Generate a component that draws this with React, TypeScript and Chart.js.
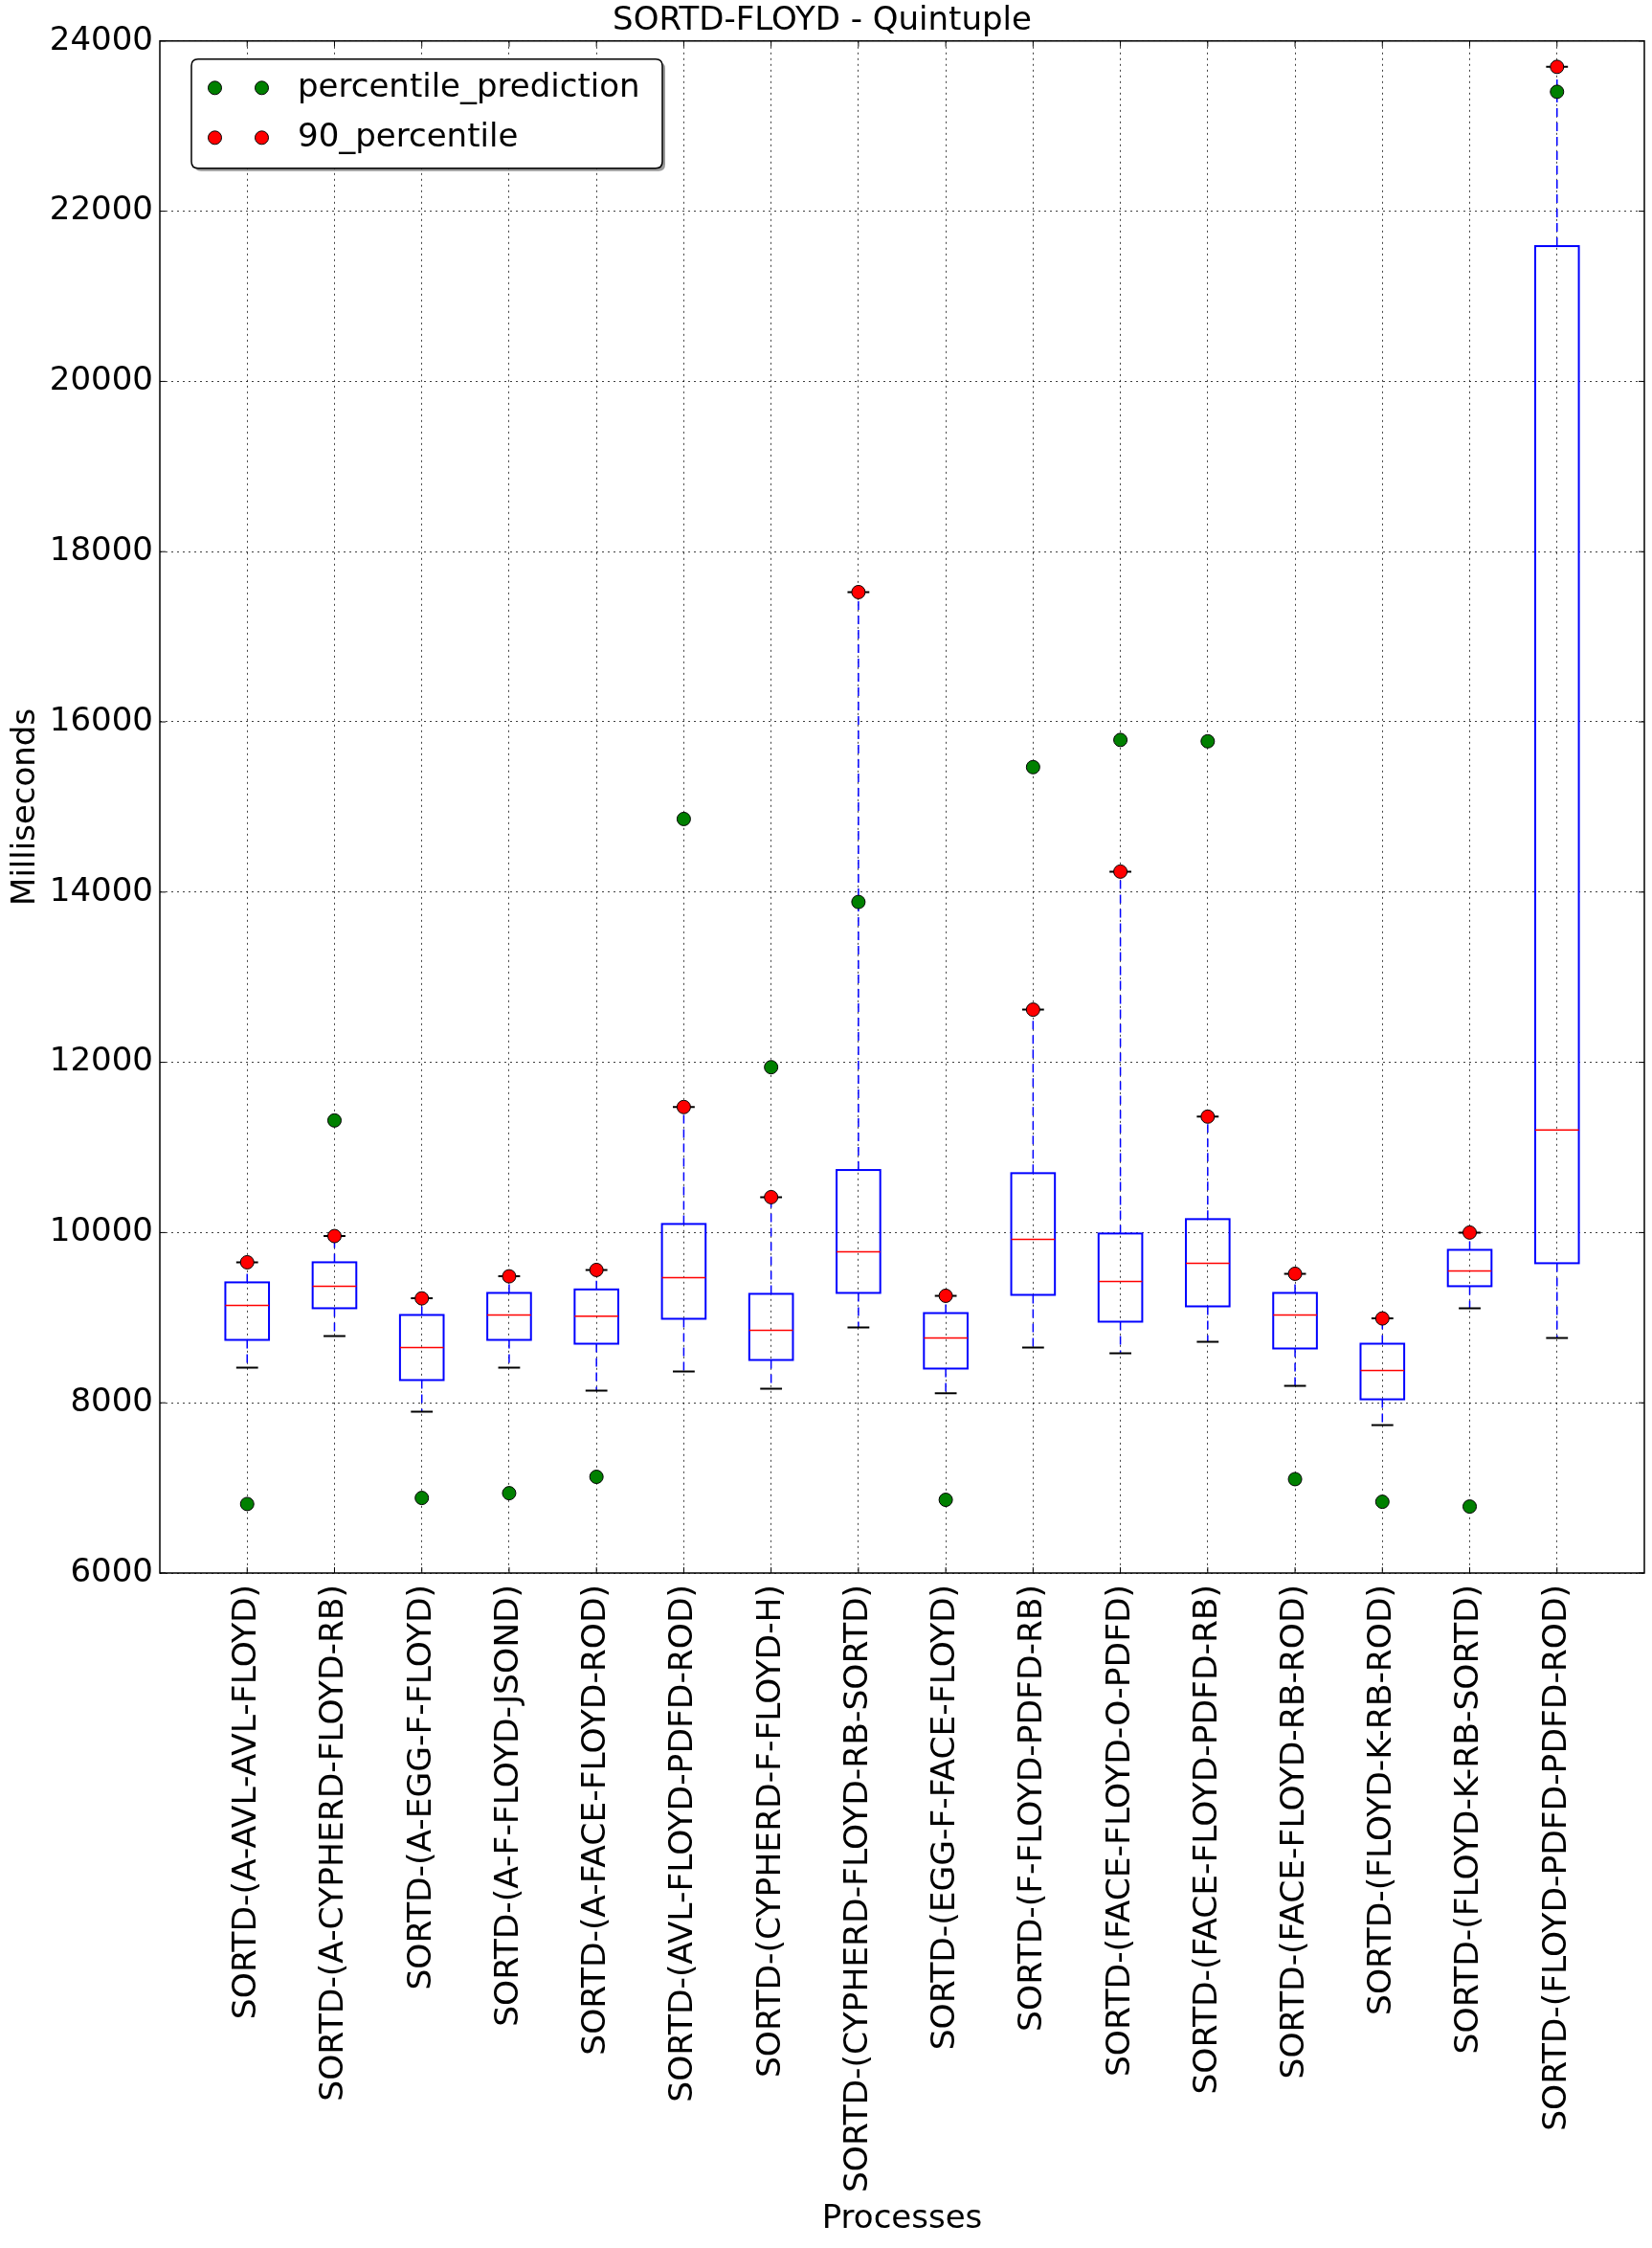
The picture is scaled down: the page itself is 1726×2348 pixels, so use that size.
import React, { useEffect, useRef } from "react";
import { Chart, registerables } from "chart.js";

Chart.register(...registerables);

const titleText = "SORTD-FLOYD - Quintuple";
const xTitle = "Processes";
const yTitle = "Milliseconds";

const categories = [
  "SORTD-(A-AVL-AVL-FLOYD)",
  "SORTD-(A-CYPHERD-FLOYD-RB)",
  "SORTD-(A-EGG-F-FLOYD)",
  "SORTD-(A-F-FLOYD-JSOND)",
  "SORTD-(A-FACE-FLOYD-ROD)",
  "SORTD-(AVL-FLOYD-PDFD-ROD)",
  "SORTD-(CYPHERD-F-FLOYD-H)",
  "SORTD-(CYPHERD-FLOYD-RB-SORTD)",
  "SORTD-(EGG-F-FACE-FLOYD)",
  "SORTD-(F-FLOYD-PDFD-RB)",
  "SORTD-(FACE-FLOYD-O-PDFD)",
  "SORTD-(FACE-FLOYD-PDFD-RB)",
  "SORTD-(FACE-FLOYD-RB-ROD)",
  "SORTD-(FLOYD-K-RB-ROD)",
  "SORTD-(FLOYD-K-RB-SORTD)",
  "SORTD-(FLOYD-PDFD-PDFD-ROD)",
];

const whiskerLow = [8413, 8784, 7895, 8413, 8143, 8368, 8165, 8886, 8113, 8649, 8582, 8717, 8199, 7738, 9111, 8762];
const q1 = [8739, 9111, 8267, 8739, 8694, 8987, 8503, 9291, 8402, 9268, 8953, 9133, 8638, 8041, 9370, 9640];
const median = [9145, 9370, 8649, 9032, 9017, 9471, 8852, 9775, 8762, 9921, 9426, 9640, 9032, 8379, 9550, 11204];
const q3 = [9415, 9651, 9032, 9291, 9332, 10101, 9280, 10735, 9054, 10698, 9989, 10158, 9291, 8694, 9797, 21590];
const whiskerHigh = [9651, 9959, 9227, 9486, 9561, 11475, 10416, 17525, 9257, 12619, 14241, 11362, 9516, 8991, 10000, 23696];

const percentile90 = [9651, 9959, 9227, 9486, 9561, 11475, 10416, 17525, 9257, 12619, 14241, 11362, 9516, 8991, 10000, 23696];
const percentilePrediction = [6811, 11317, 6882, 6938, 7130, 14859, 11943, 13884, 6860, 15468, 15788, 15772, 7103, 6837, 6781, 23403];

const yMin = 6000;
const yMax = 24000;
const yStep = 2000;

const FONT = "'DejaVu Sans', sans-serif";
const W = 1726;
const H = 2348;

const boxPlugin = {
  id: "boxplotDraw",
  beforeDatasetsDraw(chart: any) {
    const { ctx, chartArea } = chart;
    const x = chart.scales.x;
    const y = chart.scales.y;
    ctx.save();
    ctx.beginPath();
    ctx.rect(chartArea.left, chartArea.top, chartArea.width, chartArea.height);
    ctx.clip();
    const line = (x1: number, y1: number, x2: number, y2: number) => {
      ctx.beginPath();
      ctx.moveTo(x1, y1);
      ctx.lineTo(x2, y2);
      ctx.stroke();
    };
    categories.forEach((_, i) => {
      const cx = x.getPixelForValue(i + 1);
      const half = (x.getPixelForValue(i + 1.25) - x.getPixelForValue(i + 0.75)) / 2;
      const capHalf = half / 2;
      const yLo = y.getPixelForValue(whiskerLow[i]);
      const yQ1 = y.getPixelForValue(q1[i]);
      const yMed = y.getPixelForValue(median[i]);
      const yQ3 = y.getPixelForValue(q3[i]);
      const yHi = y.getPixelForValue(whiskerHigh[i]);
      ctx.strokeStyle = "#0000ff";
      ctx.lineWidth = 1.5;
      ctx.setLineDash([9, 6]);
      line(cx, yQ3, cx, yHi);
      line(cx, yQ1, cx, yLo);
      ctx.setLineDash([]);
      ctx.strokeStyle = "#000000";
      ctx.lineWidth = 2;
      line(cx - capHalf, yHi, cx + capHalf, yHi);
      line(cx - capHalf, yLo, cx + capHalf, yLo);
      ctx.strokeStyle = "#0000ff";
      ctx.lineWidth = 2;
      ctx.strokeRect(cx - half, yQ3, 2 * half, yQ1 - yQ3);
      ctx.strokeStyle = "#ff0000";
      ctx.lineWidth = 1.5;
      line(cx - half, yMed, cx + half, yMed);
    });
    ctx.restore();
  },
};

const framePlugin = {
  id: "frameDraw",
  afterDatasetsDraw(chart: any) {
    const { ctx, chartArea } = chart;
    const x = chart.scales.x;
    const y = chart.scales.y;
    const tl = 6;
    ctx.save();
    ctx.strokeStyle = "#000";
    ctx.lineWidth = 1;
    categories.forEach((_, i) => {
      const px = x.getPixelForValue(i + 1);
      ctx.beginPath();
      ctx.moveTo(px, chartArea.bottom);
      ctx.lineTo(px, chartArea.bottom - tl);
      ctx.moveTo(px, chartArea.top);
      ctx.lineTo(px, chartArea.top + tl);
      ctx.stroke();
    });
    for (let v = yMin; v <= yMax; v += yStep) {
      const py = y.getPixelForValue(v);
      ctx.beginPath();
      ctx.moveTo(chartArea.left, py);
      ctx.lineTo(chartArea.left + tl, py);
      ctx.moveTo(chartArea.right, py);
      ctx.lineTo(chartArea.right - tl, py);
      ctx.stroke();
    }
    ctx.lineWidth = 1.5;
    ctx.strokeRect(chartArea.left, chartArea.top, chartArea.width, chartArea.height);
    ctx.restore();
  },
};

const legendPlugin = {
  id: "legendDraw",
  afterDraw(chart: any) {
    const { ctx, chartArea } = chart;
    const bx = chartArea.left + 33;
    const by = chartArea.top + 19;
    const bw = 492;
    const bh = 114;
    const r = 7;
    const rr = (x0: number, y0: number) => {
      ctx.beginPath();
      ctx.moveTo(x0 + r, y0);
      ctx.lineTo(x0 + bw - r, y0);
      ctx.quadraticCurveTo(x0 + bw, y0, x0 + bw, y0 + r);
      ctx.lineTo(x0 + bw, y0 + bh - r);
      ctx.quadraticCurveTo(x0 + bw, y0 + bh, x0 + bw - r, y0 + bh);
      ctx.lineTo(x0 + r, y0 + bh);
      ctx.quadraticCurveTo(x0, y0 + bh, x0, y0 + bh - r);
      ctx.lineTo(x0, y0 + r);
      ctx.quadraticCurveTo(x0, y0, x0 + r, y0);
      ctx.closePath();
    };
    ctx.save();
    rr(bx + 3, by + 3);
    ctx.fillStyle = "rgba(0,0,0,0.4)";
    ctx.fill();
    rr(bx, by);
    ctx.fillStyle = "#ffffff";
    ctx.fill();
    ctx.strokeStyle = "#000";
    ctx.lineWidth = 1.5;
    ctx.stroke();
    chart.data.datasets.forEach((ds: any, k: number) => {
      const ry = by + 30 + k * 52;
      [bx + 24.5, bx + 73.5].forEach((mx) => {
        ctx.beginPath();
        ctx.arc(mx, ry, 7, 0, Math.PI * 2);
        ctx.fillStyle = ds.pointBackgroundColor;
        ctx.fill();
        ctx.strokeStyle = "#000";
        ctx.lineWidth = 1;
        ctx.stroke();
      });
      ctx.fillStyle = "#000";
      ctx.font = `34px ${FONT}`;
      ctx.textAlign = "left";
      ctx.textBaseline = "middle";
      ctx.fillText(ds.label, bx + 111, ry);
    });
    ctx.restore();
  },
};

export default function App() {
  const ref = useRef<HTMLCanvasElement | null>(null);
  useEffect(() => {
    document.body.style.margin = "0";
    const canvas = ref.current;
    if (!canvas) return;
    const chart = new Chart(canvas, {
      type: "scatter",
      data: {
        datasets: [
          {
            label: "percentile_prediction",
            data: percentilePrediction.map((v, i) => ({ x: i + 1, y: v })),
            pointBackgroundColor: "#008000",
            pointBorderColor: "#000000",
            pointBorderWidth: 1,
            pointRadius: 7,
            showLine: false,
          },
          {
            label: "90_percentile",
            data: percentile90.map((v, i) => ({ x: i + 1, y: v })),
            pointBackgroundColor: "#ff0000",
            pointBorderColor: "#000000",
            pointBorderWidth: 1,
            pointRadius: 7,
            showLine: false,
          },
        ],
      },
      options: {
        animation: false,
        responsive: false,
        devicePixelRatio: 1,
        layout: { padding: { left: 0, right: 8, top: 0, bottom: 0 } },
        plugins: {
          legend: { display: false },
          tooltip: { enabled: false },
          title: {
            display: true,
            text: titleText,
            color: "#000",
            font: { family: FONT, size: 34, weight: "normal" },
            padding: { top: 2, bottom: 0 },
          },
        },
        scales: {
          x: {
            type: "linear",
            min: 0,
            max: 17,
            afterBuildTicks: (s: any) => {
              s.ticks = categories.map((_, i) => ({ value: i + 1 }));
            },
            afterFit: (s: any) => {
              s.height = H - 1643;
              s.paddingLeft = 0;
              s.paddingRight = 0;
            },
            ticks: {
              autoSkip: false,
              minRotation: 90,
              maxRotation: 90,
              padding: 12,
              color: "#000",
              font: { family: FONT, size: 34.5 },
              callback: (v: any) => categories[Number(v) - 1] ?? "",
            },
            grid: { color: "rgba(0,0,0,0.75)", lineWidth: 1, drawTicks: false },
            border: { display: false, dash: [2, 4] },
            title: {
              display: true,
              text: xTitle,
              color: "#000",
              font: { family: FONT, size: 34 },
              padding: { top: 0, bottom: 9 },
            },
          },
          y: {
            type: "linear",
            min: yMin,
            max: yMax,
            afterFit: (s: any) => {
              s.width = 167;
            },
            ticks: {
              stepSize: yStep,
              padding: 7,
              color: "#000",
              font: { family: FONT, size: 34 },
              callback: (v: any) => String(v),
            },
            grid: { color: "rgba(0,0,0,0.75)", lineWidth: 1, drawTicks: false },
            border: { display: false, dash: [2, 4] },
            title: {
              display: true,
              text: yTitle,
              color: "#000",
              font: { family: FONT, size: 34 },
              padding: { top: 7, bottom: 0 },
            },
          },
        },
      } as any,
      plugins: [boxPlugin, framePlugin, legendPlugin],
    });
    return () => chart.destroy();
  }, []);
  return (
    <div style={{ width: W, height: H, background: "#fff" }}>
      <canvas ref={ref} width={W} height={H} style={{ display: "block", width: W, height: H }} />
    </div>
  );
}
